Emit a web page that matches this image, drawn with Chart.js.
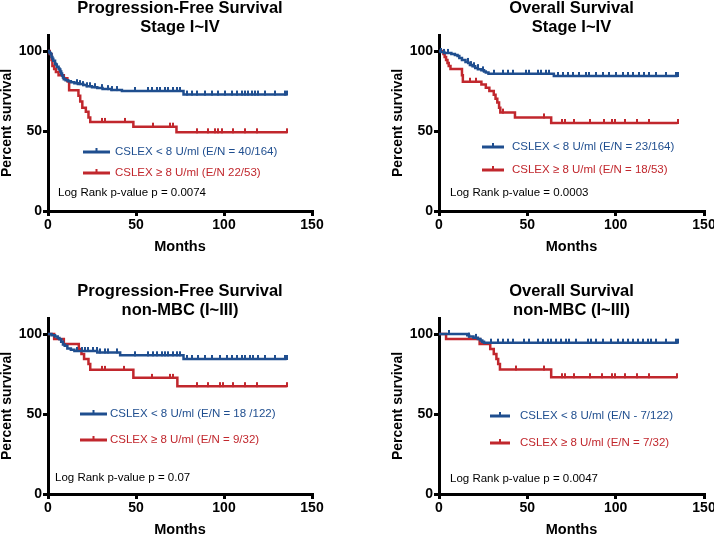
<!DOCTYPE html>
<html lang="en">
<head>
<meta charset="UTF-8">
<title>CSLEX survival curves</title>
<script src="https://cdn.jsdelivr.net/npm/chart.js"></script>
<style>
  html, body { margin: 0; padding: 0; background: #fff; overflow: hidden; }
  body { width: 714px; height: 535px; position: relative; }
  canvas { position: absolute; }
</style>
</head>
<body>
<canvas id="pfsAll" width="357" height="268" style="left:0;top:0"></canvas>
<canvas id="osAll" width="360" height="268" style="left:357px;top:0"></canvas>
<canvas id="pfsNon" width="357" height="268" style="left:0;top:283px"></canvas>
<canvas id="osNon" width="360" height="268" style="left:357px;top:283px"></canvas>
<script>
const FONT = '"Liberation Sans", Arial, sans-serif';
const BLUE = '#1f4e8f';
const RED = '#c1272d';

// axis ticks
const xTicks = [0, 50, 100, 150];
const yTicks = [0, 50, 100];

// PFS, stage I~IV  (event times in months / survival % after the event, censor times)
const pfsAllLowT = [0.5, 1, 1.5, 2, 2.5, 3, 4, 4.5, 5, 6, 6.5, 7, 7.5, 8, 8.5, 9, 10, 11.5, 13, 15, 17, 20, 22, 25, 28, 31, 36, 42, 77];
const pfsAllLowS = [99.4, 98.8, 98.2, 96.3, 95.1, 93.9, 92.1, 91.5, 90.2, 89.0, 88.4, 87.2, 86.0, 84.7, 83.5, 82.3, 81.7, 81.1, 80.5, 79.9, 79.3, 78.7, 78.0, 77.4, 76.8, 76.2, 75.6, 75.0, 72.8];
const pfsAllLowCens = [16.3, 18.2, 20.1, 22, 23.9, 26.7, 30.5, 34.3, 36.2, 39, 49.4, 57, 58.9, 61.7, 63.6, 66.5, 68.4, 71.2, 73.1, 75, 78.8, 81.6, 84.5, 89.2, 93, 96.8, 100.6, 104.4, 107.2, 110, 111.9, 113.8, 115.7, 117.6, 119.5, 123.3, 129, 134.6, 135.6];
const pfsAllHighT = [1, 2, 2.5, 3.5, 4.5, 6, 9, 11, 12, 17.3, 18.3, 19.5, 21.5, 23, 24, 48.5, 73];
const pfsAllHighS = [98.1, 94.3, 90.6, 88.7, 86.8, 84.9, 83.0, 81.1, 75.5, 72.0, 68.5, 64.6, 62.0, 58.5, 55.7, 52.7, 49.2];
const pfsAllHighCens = [30.5, 32.4, 43.5, 59.5, 69.3, 71.2, 84.5, 91.1, 94.9, 96.8, 98.7, 105.3, 111.9, 118.6, 135.6];

// OS, stage I~IV
const osAllLowT = [1, 3, 7, 9, 10.5, 11.5, 13, 15, 16.5, 17.5, 19, 20.5, 22, 24, 25.5, 26.5, 28, 65];
const osAllLowS = [99.4, 98.8, 98.1, 97.5, 96.8, 95.6, 94.4, 93.2, 92.5, 91.2, 90.5, 89.3, 88.6, 87.9, 87.2, 86.5, 85.8, 84.4];
const osAllLowCens = [1.1, 3.0, 4.9, 16.2, 18.1, 20, 21.9, 24.7, 31.3, 36, 38.9, 41.7, 49.2, 51.1, 55.8, 57.7, 60.6, 62.4, 67.2, 70, 72.8, 75.7, 79.4, 83.2, 85.1, 88.9, 92.6, 96.4, 100.2, 103.9, 106.8, 109.6, 113.4, 116.2, 119, 122.8, 128.5, 134.1, 135.1];
const osAllHighT = [2.5, 3.2, 4, 4.8, 5.5, 6.5, 13, 13.5, 24, 26.5, 28.5, 31, 32, 33, 34, 34.7, 43, 63.5];
const osAllHighS = [98.1, 96.2, 94.3, 92.5, 90.6, 88.7, 84.9, 80.8, 79.0, 77.0, 75.0, 72.6, 70.2, 67.8, 64.5, 61.5, 58.5, 55.0];
const osAllHighCens = [17.3, 21.1, 36.5, 59.2, 69.6, 71.5, 76.2, 85.6, 93.2, 97.9, 99.8, 105.5, 112, 118.7, 135];

// PFS, non-MBC (I~III)
const pfsNonLowT = [2, 4, 5.5, 6.5, 7.5, 8.5, 9.5, 11, 13, 15, 28, 41, 77];
const pfsNonLowS = [99.2, 98.4, 97.5, 96.7, 95.1, 93.4, 92.6, 91.0, 90.2, 89.4, 88.5, 86.7, 84.4];
const pfsNonLowCens = [16.3, 19.1, 21, 22.9, 25.8, 27.7, 29.5, 32.4, 34.3, 39, 49.4, 57, 59.9, 61.7, 64.6, 66.5, 68.4, 71.2, 73.1, 75, 78.8, 81.6, 85.4, 89.2, 93, 97.7, 101.5, 104.4, 107.2, 110, 111.9, 114.8, 116.7, 119.5, 123.3, 129, 134.6, 135.6];
const pfsNonHighT = [3.5, 9, 17.5, 19, 20.5, 23, 24, 48.5, 73.5];
const pfsNonHighS = [96.9, 93.8, 90.6, 87.5, 84.4, 81.2, 77.6, 72.6, 67.4];
const pfsNonHighCens = [30.5, 32.4, 43.2, 58.9, 69.3, 71.2, 84.5, 91.1, 97.7, 99.6, 105.3, 111.9, 118.6, 135.6];

// OS, non-MBC (I~III)
const osNonLowT = [16, 17, 19.5, 22, 23.5, 24.5, 25.5];
const osNonLowS = [99.2, 98.4, 97.6, 96.8, 96.0, 95.2, 94.6];
const osNonLowCens = [5.9, 17.2, 20.9, 29.4, 33.2, 36, 38.9, 41.7, 48.3, 51.1, 55.8, 58.7, 61.5, 63.4, 66.2, 69, 71.9, 73.8, 77.5, 84.2, 86, 88.9, 92.6, 97.4, 101.1, 104, 106.8, 109.6, 112.5, 115.3, 118.1, 120, 122.8, 128.5, 134.1, 135.1];
const osNonHighT = [4, 23, 29, 31, 32.5, 33.5, 34.5, 63.5];
const osNonHighS = [96.9, 93.8, 90.6, 87.5, 84.4, 81.3, 77.8, 73.0];
const osNonHighCens = [43.4, 59.4, 69.6, 71.5, 76.2, 85.6, 92.2, 97.9, 99.8, 105.5, 112.1, 118.7, 134.8];

Chart.defaults.font.family = FONT;

// small upward tick used for censored cases
function tickMark(color) {
    const c = document.createElement('canvas');
    c.width = 2;
    c.height = 10;
    const g = c.getContext('2d');
    g.fillStyle = color;
    g.fillRect(0, 1, 2, 5);
    return c;
}

// events + censors -> points for a stepped line
function curve(ts, ss, cens) {
    const pts = [{ x: 0, y: 100, c: 0 }];
    ts.forEach((t, i) => pts.push({ x: t, y: ss[i], c: 0 }));
    cens.forEach(t => {
        let s = 100;
        ts.forEach((e, i) => { if (e <= t) s = ss[i]; });
        pts.push({ x: t, y: s, c: 1 });
    });
    pts.sort((a, b) => a.x - b.x);
    return pts;
}

function kmSet(pts, color) {
    return {
        data: pts,
        borderColor: color,
        borderWidth: 2.5,
        stepped: true,
        fill: false,
        pointStyle: tickMark(color),
        pointRadius: ctx => (ctx.raw && ctx.raw.c ? 3 : 0),
        pointHoverRadius: 0
    };
}

// titles, legend and p-value written inside each panel
const panelText = {
    id: 'panelText',
    afterDraw(chart, args, o) {
        const { ctx, chartArea: a } = chart;
        const cx = (a.left + a.right) / 2;
        ctx.save();
        ctx.fillStyle = '#000';
        ctx.textAlign = 'center';
        ctx.textBaseline = 'middle';
        ctx.font = 'bold 16.5px ' + FONT;
        ctx.fillText(o.title[0], cx, a.top - 27);
        ctx.fillText(o.title[1], cx, a.top - 8);

        ctx.font = '11.5px ' + FONT;
        ctx.textAlign = 'left';
        const cols = [BLUE, RED];
        o.legend.forEach((txt, i) => {
            const y = a.bottom - o.rowY[i];
            const x0 = a.left + o.lineX[0];
            const x1 = a.left + o.lineX[1];
            ctx.strokeStyle = cols[i];
            ctx.lineWidth = 3;
            ctx.beginPath();
            ctx.moveTo(x0, y);
            ctx.lineTo(x1, y);
            ctx.stroke();
            ctx.fillStyle = cols[i];
            ctx.fillRect((x0 + x1) / 2 - 1, y - 4, 2, 4);
            ctx.fillText(txt, a.left + o.textX, y);
        });
        ctx.fillStyle = '#000';
        ctx.fillText(o.pText, a.left + o.pX, a.bottom - o.pY);
        ctx.restore();
    }
};

function makeChart(id, low, high, text, padL, padR) {
    new Chart(document.getElementById(id), {
        type: 'line',
        data: { datasets: [kmSet(low, BLUE), kmSet(high, RED)] },
        options: {
            responsive: false,
            animation: false,
            events: [],
            layout: { padding: { left: padL, right: padR, top: 35, bottom: 0 } },
            plugins: {
                legend: { display: false },
                tooltip: { enabled: false },
                panelText: text
            },
            scales: {
                x: {
                    type: 'linear',
                    min: 0,
                    max: 150,
                    afterBuildTicks: s => { s.ticks = xTicks.map(v => ({ value: v })); },
                    afterFit: s => { s.height = 57; },
                    ticks: { color: '#000', font: { size: 14, weight: 'bold' }, padding: 1, maxRotation: 0 },
                    grid: { drawOnChartArea: false, tickLength: 5, lineWidth: 3, color: '#000' },
                    border: { color: '#000', width: 3 },
                    title: {
                        display: true, text: 'Months', color: '#000',
                        font: { size: 14.5, weight: 'bold', lineHeight: 1 },
                        padding: { top: 0, bottom: 14 }
                    }
                },
                y: {
                    min: 0,
                    max: 110,
                    afterBuildTicks: s => { s.ticks = yTicks.map(v => ({ value: v })); },
                    afterFit: s => { s.width = 48; },
                    ticks: { color: '#000', font: { size: 14, weight: 'bold' }, padding: 1 },
                    grid: { drawOnChartArea: false, tickLength: 5, lineWidth: 3, color: '#000' },
                    border: { color: '#000', width: 3 },
                    title: {
                        display: true, text: 'Percent survival', color: '#000',
                        font: { size: 14, weight: 'bold', lineHeight: 1 },
                        padding: { top: 0, bottom: 0 }
                    }
                }
            }
        },
        plugins: [panelText]
    });
}

makeChart('pfsAll',
    curve(pfsAllLowT, pfsAllLowS, pfsAllLowCens),
    curve(pfsAllHighT, pfsAllHighS, pfsAllHighCens),
    {
        title: ['Progression-Free Survival', 'Stage I~IV'],
        legend: ['CSLEX < 8 U/ml (E/N = 40/164)', 'CSLEX \u2265 8 U/ml (E/N 22/53)'],
        pText: 'Log Rank p-value p = 0.0074',
        lineX: [35, 62], textX: 67, rowY: [59, 38], pX: 10, pY: 18
    }, 0, 45);

makeChart('osAll',
    curve(osAllLowT, osAllLowS, osAllLowCens),
    curve(osAllHighT, osAllHighS, osAllHighCens),
    {
        title: ['Overall Survival', 'Stage I~IV'],
        legend: ['CSLEX < 8 U/ml (E/N = 23/164)', 'CSLEX \u2265 8 U/ml (E/N = 18/53)'],
        pText: 'Log Rank p-value = 0.0003',
        lineX: [43, 65], textX: 73, rowY: [64, 41], pX: 11, pY: 18
    }, 34, 13);

makeChart('pfsNon',
    curve(pfsNonLowT, pfsNonLowS, pfsNonLowCens),
    curve(pfsNonHighT, pfsNonHighS, pfsNonHighCens),
    {
        title: ['Progression-Free Survival', 'non-MBC (I~III)'],
        legend: ['CSLEX < 8 U/ml (E/N = 18 /122)', 'CSLEX \u2265 8 U/ml (E/N = 9/32)'],
        pText: 'Log Rank p-value p = 0.07',
        lineX: [32, 59], textX: 62, rowY: [80, 54], pX: 7, pY: 16
    }, 0, 45);

makeChart('osNon',
    curve(osNonLowT, osNonLowS, osNonLowCens),
    curve(osNonHighT, osNonHighS, osNonHighCens),
    {
        title: ['Overall Survival', 'non-MBC (I~III)'],
        legend: ['CSLEX < 8 U/ml (E/N - 7/122)', 'CSLEX \u2265 8 U/ml (E/N = 7/32)'],
        pText: 'Log Rank p-value p = 0.0047',
        lineX: [51, 71], textX: 81, rowY: [78, 51], pX: 11, pY: 15
    }, 34, 13);
</script>
</body>
</html>
